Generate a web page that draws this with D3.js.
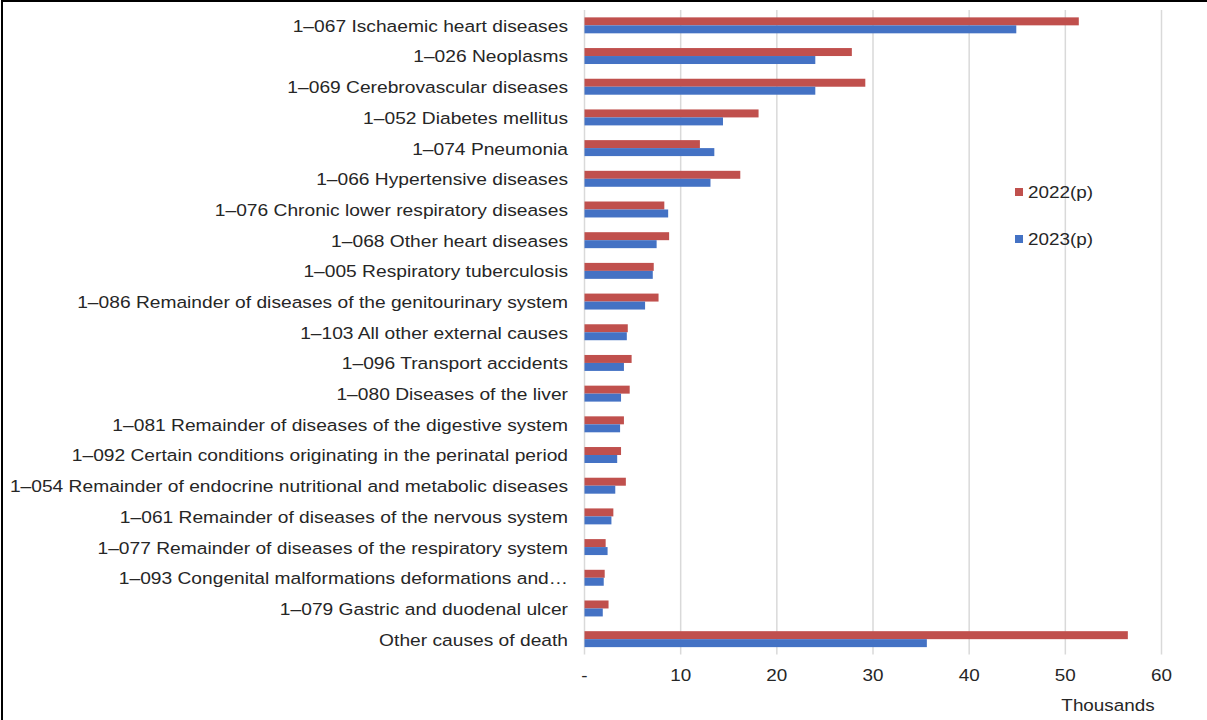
<!DOCTYPE html>
<html><head><meta charset="utf-8">
<script src="https://cdn.jsdelivr.net/npm/d3@7"></script>
<style>body{margin:0;background:#fff;}svg{display:block;font-family:"Liberation Sans",Arial,sans-serif;}</style>
</head><body><svg id="c" width="1207" height="720"></svg>
<script>
const categories = [
"1–067 Ischaemic heart diseases",
"1–026 Neoplasms",
"1–069 Cerebrovascular diseases",
"1–052 Diabetes mellitus",
"1–074 Pneumonia",
"1–066 Hypertensive diseases",
"1–076 Chronic lower respiratory diseases",
"1–068 Other heart diseases",
"1–005 Respiratory tuberculosis",
"1–086 Remainder of diseases of the genitourinary system",
"1–103 All other external causes",
"1–096 Transport accidents",
"1–080 Diseases of the liver",
"1–081 Remainder of diseases of the digestive system",
"1–092 Certain conditions originating in the perinatal period",
"1–054 Remainder of endocrine nutritional and metabolic diseases",
"1–061 Remainder of diseases of the nervous system",
"1–077 Remainder of diseases of the respiratory system",
"1–093 Congenital malformations deformations and…",
"1–079 Gastric and duodenal ulcer",
"Other causes of death"
];
const series2022 = [51.4,27.8,29.2,18.1,12.0,16.2,8.3,8.8,7.2,7.7,4.5,4.9,4.7,4.1,3.8,4.3,3.0,2.2,2.1,2.5,56.5];
const series2023 = [44.9,24.0,24.0,14.4,13.5,13.1,8.7,7.5,7.1,6.3,4.4,4.1,3.8,3.7,3.4,3.2,2.8,2.4,2.0,1.9,35.6];
const seriesNames = ["2022(p)","2023(p)"];
const tickValues = [0,10,20,30,40,50,60];
const tickLabels = ["-","10","20","30","40","50","60"];
const axisUnit = "Thousands";

const colors = ["#C0504D","#4472C4"];
const FS = 17, SX = 1.11, TXT = "#262626";
const svg = d3.select("#c");
const x = d3.scaleLinear().domain([0,60]).range([584.5,1161.5]);
const y = d3.scaleBand().domain(categories).range([10,654.5]).paddingInner(0.48).paddingOuter(0.24);

function label(sel, px, py, anchor, sx){
  return sel.attr("transform",(d,i)=>`translate(${px(d,i)},${py(d,i)}) scale(${sx||SX},1)`)
    .attr("text-anchor",anchor).attr("font-size",FS).attr("fill",TXT);
}

// gridlines
svg.append("g").selectAll("line").data(tickValues).join("line")
  .attr("x1",d=>x(d)).attr("x2",d=>x(d)).attr("y1",10).attr("y2",654.5)
  .attr("stroke","#D9D9D9").attr("stroke-width",1.5);

const sub = d3.scaleBand().domain([0,1]).range([0,y.bandwidth()]);
const data = categories.map((c,i)=>({c, v:[series2022[i],series2023[i]]}));
const g = svg.append("g");
data.forEach(d=>{
  d.v.forEach((v,k)=>{
    g.append("rect").attr("x",x(0)).attr("y",y(d.c)+sub(k))
     .attr("width",x(v)-x(0)).attr("height",sub.bandwidth()).attr("fill",colors[k]);
  });
});

// category labels
label(svg.append("g").selectAll("text").data(categories).join("text").attr("dy","0.35em").text(d=>d),
  ()=>568, d=>y(d)+y.bandwidth()/2+0.5, "end", 1.13);

// x tick labels
label(svg.append("g").selectAll("text").data(tickValues).join("text").attr("dy","0.35em").text((d,i)=>tickLabels[i]),
  d=>x(d), ()=>675, "middle");
label(svg.append("g").selectAll("text").data([axisUnit]).join("text").attr("dy","0.35em").text(d=>d),
  ()=>1108, ()=>705, "middle");

// legend
const leg = svg.append("g");
seriesNames.forEach((n,k)=>{
  const cy = 192 + k*47;
  leg.append("rect").attr("x",1015).attr("y",cy-4).attr("width",8).attr("height",8).attr("fill",colors[k]);
  label(leg.append("text").datum(n).attr("dy","0.35em").text(n), ()=>1028, ()=>cy, "start");
});

// border
svg.append("rect").attr("x",2).attr("y",1).attr("width",1220).attr("height",730)
  .attr("fill","none").attr("stroke","#000").attr("stroke-width",2);
</script></body></html>
